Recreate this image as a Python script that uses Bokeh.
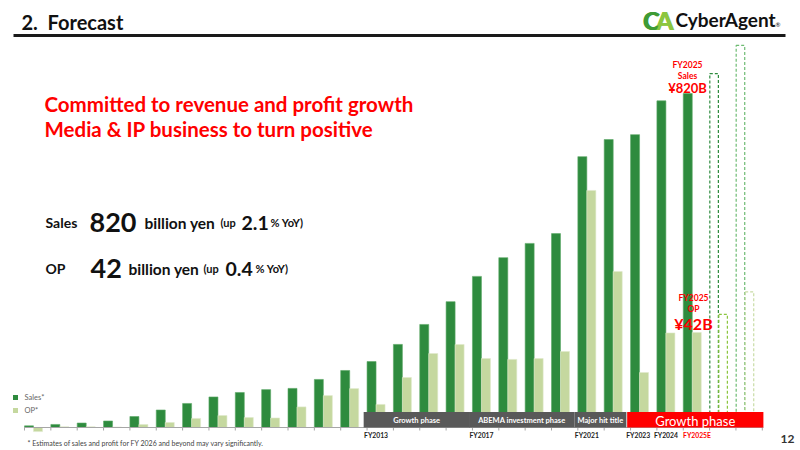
from bokeh.plotting import figure
from bokeh.models import Range1d, Label
from bokeh.embed import file_html
from bokeh.resources import INLINE

# ---- data (billion yen) -------------------------------------------------
fiscal_years = ["FY2000", "FY2001", "FY2002", "FY2003", "FY2004", "FY2005",
                "FY2006", "FY2007", "FY2008", "FY2009", "FY2010", "FY2011",
                "FY2012", "FY2013", "FY2014", "FY2015", "FY2016", "FY2017",
                "FY2018", "FY2019", "FY2020", "FY2021", "FY2022", "FY2023",
                "FY2024", "FY2025E"]
sales = [4, 7.5, 11, 16, 27, 43, 59, 75, 86, 93, 96, 118, 140, 162, 204,
         253, 309, 371, 417, 452, 476, 665, 707, 719, 802, 820]
op = [-1.8, 0.3, 0.3, 0.2, 1.3, 2.2, 4.0, 5.3, 4.4, 4.2, 9.1, 14.1, 17.2,
      10.2, 22.1, 32.7, 36.7, 30.5, 30.1, 30.5, 33.6, 104.8, 69.0, 24.3,
      41.8, 42]
# outlined targets for the two years after FY2025
plan_sales = [869, 938]
plan_op = [50, 60]

labelled_years = ["FY2013", "FY2017", "FY2021", "FY2023", "FY2024", "FY2025E"]
phase_names = ["Growth phase", "ABEMA investment phase", "Major hit title", "Growth phase"]
phase_first = ["FY2013", "FY2017", "FY2021", "FY2023"]

# ---- canvas geometry ----------------------------------------------------
W, H = 800, 450
SLOT = 26.35                      # px per fiscal year
X0 = -33 / SLOT
X1 = X0 + W / SLOT
BASE = 23                         # px of baseline above bottom
SALES_PX = 2.4551                 # billion yen per px, sales scale
OP_PX = 0.4421                    # billion yen per px, OP scale
BW = 9 / SLOT                     # bar width

DARK = "#2e8b3e"
LIGHT = "#c5d89f"
RED = "#ff0000"
FONT = "Lato"
NB = "\u00a0"


def sy(top):
    """screen y (from bottom) for a pixel row measured from the top"""
    return H - top


def sx(px):
    return (px / SLOT) + X0


def dy(top):
    """sales-scale data y for a pixel row measured from the top"""
    return (H - BASE - top) * SALES_PX


def text(txt, x, top, size, color="#111111", bold=True, align="left",
         baseline="middle", x_data=False):
    p.add_layout(Label(x=x, y=sy(top), x_units="data" if x_data else "screen",
                       y_units="screen", text=txt, text_align=align,
                       text_baseline=baseline, text_font=FONT, text_font_size=size,
                       text_font_style="bold" if bold else "normal",
                       text_color=color))


p = figure(width=W, height=H, x_range=Range1d(X0, X1),
           y_range=Range1d(-BASE * SALES_PX, (H - BASE) * SALES_PX),
           toolbar_location=None, output_backend="svg", min_border=0,
           x_axis_location=None, y_axis_location=None,
           outline_line_color=None, background_fill_color="white",
           border_fill_color="white")
p.grid.visible = False
p.extra_y_ranges = {"op": Range1d(-BASE * OP_PX, (H - BASE) * OP_PX)}

idx = list(range(len(fiscal_years)))

# ---- bars ---------------------------------------------------------------
p.vbar(x=[i - BW / 2 for i in idx], top=sales, bottom=0, width=BW,
       fill_color=DARK, line_color="#5da866", line_width=0.6)
p.vbar(x=[i + BW / 2 for i in idx], top=op, bottom=0, width=BW,
       y_range_name="op", fill_color=LIGHT, line_color="#dfe9cb", line_width=0.6)

plan_idx = [len(idx), len(idx) + 1]
p.vbar(x=[i - BW / 2 for i in plan_idx], top=plan_sales, bottom=0, width=BW * 0.95,
       fill_color=None, line_color=[DARK, "#6dbb72"], line_width=1.2, line_dash="3 2")
p.vbar(x=[i + BW / 2 for i in plan_idx], top=plan_op, bottom=0, width=BW * 0.95,
       y_range_name="op", fill_color=None, line_color=["#8cc63f", "#c9dca6"],
       line_width=1.2, line_dash="3 2")

# ---- baseline and ticks -------------------------------------------------
tick_x = [i - BW for i in range(len(idx) + 3)]
p.segment(x0=[tick_x[0]], x1=[27.7], y0=[0], y1=[0], line_color="#a6a6a6", line_width=1)
p.segment(x0=tick_x, x1=tick_x, y0=[0] * len(tick_x), y1=[-3 * SALES_PX] * len(tick_x),
          line_color="#a6a6a6", line_width=1)

# ---- phase bands --------------------------------------------------------
band_top = 15.5 * SALES_PX
starts = [fiscal_years.index(f) for f in phase_first]
lefts = [s - 0.47 for s in starts]
rights = [starts[1] - 0.45, starts[2] - 0.47, starts[3] - 0.5, 27.7]
colors = ["#595959", "#595959", "#595959", RED]
p.quad(left=lefts, right=rights, bottom=0, top=band_top, fill_color=colors, line_color=None)
for name, l, r, c in zip(phase_names, lefts, rights, colors):
    big = c == RED
    text(name, (l + r) / 2, 420, "13px" if big else "7.5px", color="white",
         bold=not big, align="center", x_data=True)

# ---- fiscal year labels -------------------------------------------------
label_nudge = {"FY2023": -0.05, "FY2025E": 0.18}
for fy in labelled_years:
    k = fiscal_years.index(fy) + label_nudge.get(fy, 0)
    text(fy, k, 434, "6.8px", color=RED if fy.endswith("E") else "#222222",
         align="center", x_data=True)

# ---- value callouts -----------------------------------------------------
k25 = fiscal_years.index("FY2025E")
text("FY2025", 687, 64, "8.5px", RED, align="center")
text("Sales", 687, 75, "8.5px", RED, align="center")
text(f"¥{sales[k25]:g}B", 687, 87, "13px", RED, align="center")
text("FY2025", 693, 297, "8.5px", RED, align="center")
text("OP", 693, 308, "8.5px", RED, align="center")
text(f"¥{op[k25]:g}B", 693, 323, "16px", RED, align="center")

# ---- header -------------------------------------------------------------
text(f"2.{NB}{NB}Forecast", 21, 21, "20px")
p.segment(x0=[sx(13)], x1=[sx(785)], y0=[dy(35)], y1=[dy(35)],
          line_color="#1a1a1a", line_width=3)

# logo: a heavy two-tone "CA" mark followed by the word mark
for off in (0, 0.6, 1.2):
    text("C", 642 + off, 19, "25px", "#3f9b35")
    text("A", 655 + off, 19, "25px", "#8cc63f")
text("CyberAgent", 675, 19, "19px")
text("®", 775, 24, "6px", bold=False)

# headline
text("Committed to revenue and profit growth", 44, 103, "20.5px", RED)
text("Media & IP business to turn positive", 44, 128, "20.5px", RED)

# key figures
pieces = [
    ("Sales", 45, 222, "14px"), ("820", 89, 222, "27px"), ("billion yen", 144, 222, "15.5px"),
    ("(up", 220, 222, "11px"), ("2.1", 241, 222, "19.5px"), ("% YoY)", 270, 222, "11px"),
    ("OP", 45, 268, "14px"), ("42", 90, 268, "27px"), ("billion yen", 128, 268, "15.5px"),
    ("(up", 203, 268, "11px"), ("0.4", 225, 268, "19.5px"), ("% YoY)", 255, 268, "11px"),
]
for txt, x, base, size in pieces:
    text(txt, x, base, size, baseline="alphabetic")

# legend
p.scatter(x=[sx(15), sx(15)], y=[dy(397), dy(410)],
          marker="square", size=5, fill_color=[DARK, LIGHT], line_color=None)
text("Sales*", 24, 397, "7.5px", "#666666", bold=False)
text("OP*", 24, 410, "7.5px", "#666666", bold=False)

# footnote and page number
text("* Estimates of sales and profit for FY 2026 and beyond may vary significantly.",
     27, 442, "7px", "#444444", bold=False)
text("12", 794, 438, "12px", "#333333", align="right")

open("out.html", "w").write(file_html(p, INLINE))
